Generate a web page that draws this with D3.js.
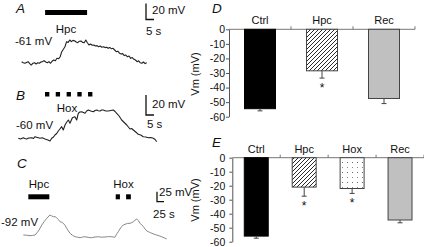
<!DOCTYPE html>
<html><head><meta charset="utf-8">
<script src="https://cdn.jsdelivr.net/npm/d3@7"></script>
<style>
html,body{margin:0;padding:0;background:#fff;}
svg{display:block;font-family:"Liberation Sans",Arial,sans-serif;}
</style></head><body>
<svg id="c" width="424" height="247"></svg>
<script>
// ---------- Trace A (Hpc) ----------
const dtA = 1; // s per sample
const vA = [-60.6,-62,-62.6,-61.5,-60.6,-63,-64.8,-62.5,-61.9,-63.5,-62,-62.6,-61,-60.5,-59.4,-61,-61.9,-60.5,-62.6,-60,-58.5,-59.5,-56.4,-57,-54.4,-48.1,-45,-41.9,-35.6,-36.5,-33.5,-35.6,-34,-34.4,-36,-36.9,-35,-34.8,-36.5,-36.9,-33.5,-37,-39.8,-38.5,-40,-39.8,-41,-40.5,-41.9,-41,-42.5,-41.9,-43,-42.5,-43.9,-42.8,-44.5,-43.9,-46,-48.1,-47.5,-50,-51,-50.5,-53,-52.3,-54.5,-53.5,-56.4,-55.5,-57.6,-58.5,-60.6,-59.5,-62,-62.6,-61,-63,-61.9];
const hpcA = [14.6, 40.8];
// ---------- Trace B (Hox) ----------
const tB = [0,1.5,3.1,4,5.2,6.5,8.4,9.5,10.4,12,13.6,15,16.7,18.5,19.8,20.9,22,22.9,24,25,26,27.1,28.1,29.2,30.3,31.3,32.3,33.8,35.4,36.5,37.5,38.5,39.6,40.7,41.7,42.7,43.8,45.3,46.9,48,49,50,51.1,52.1,53.1,54.7,56.3,57.8,59.4,60.5,61.5,63,64.6,66.2,67.8,68.8,69.8,70.8,71.9,73.4,75,76.5,78.1,79.7,81.3,82.8,84.4,85.5,86.5];
const vB = [-60.3,-61,-59.7,-60.5,-61,-60,-59.7,-60.5,-58.7,-59.5,-60.3,-59.8,-61,-62,-63,-60.3,-59,-57,-55.5,-53,-51,-48.7,-52,-47,-44,-42,-45.3,-39.7,-38.7,-42,-35.3,-34,-33.7,-34.5,-35.3,-33,-32,-33,-33.7,-32.5,-32,-32.8,-33,-32,-32,-33,-33,-32.5,-32,-33.5,-35.3,-38,-42,-44.5,-47,-49,-51,-50.5,-52,-54,-56.3,-57,-58.7,-59,-59.7,-59.5,-60.3,-61.5,-63.7];
const hoxB = [[16.7,19.4],[23.4,26.1],[30.2,32.9],[36.9,39.6],[43.6,46.3]];
// ---------- Trace C ----------
const tC = [0,12,24,33,42,54,66,75,84,95,101,107,113,119,125,131,137,143,149,155,161,167,176,185,194,203,212,220,232,244,256,268,280,292,304,316,322,327,333,339,345,351,357,363,372,381,387,393,399,405,411,417,423,429,435,441,450,459,467,476,485,494,503,512];
const vC = [-92,-92.5,-93.8,-93,-92,-82,-67,-58,-50.3,-42,-44,-46.3,-46,-48.8,-53,-58.8,-60,-62.8,-68,-75.3,-82,-87.8,-93,-96.3,-97.5,-98.8,-97,-96.3,-98,-98.8,-97,-96.3,-97.5,-97,-96,-96.3,-97,-97.8,-90,-83.8,-77,-71.3,-67,-65.3,-63,-62.8,-61,-58.8,-55,-52,-56,-62.8,-67,-71.3,-77,-82,-85,-87.8,-90,-92,-94,-96.3,-99,-102];
const hpcC = [17.9, 92.9];
const hoxC = [[330,345],[367,384]];
// ---------- Bar chart D ----------
const catsD = ["Ctrl","Hpc","Rec"];
const valsD = [-54.5,-28.5,-47.5];
const errD = [1.5,5,3.5];
const sigD = [false,true,false];
// ---------- Bar chart E ----------
const catsE = ["Ctrl","Hpc","Hox","Rec"];
const valsE = [-56,-21,-22,-44.5];
const errE = [1.5,6.5,3.5,2];
const sigE = [false,true,true,false];
const yTicks = [0,-10,-20,-30,-40,-50,-60];

const svg = d3.select("#c");
const defs = svg.append("defs");
const hatch = defs.append("pattern").attr("id","hatch").attr("patternUnits","userSpaceOnUse")
  .attr("width",4).attr("height",4);
hatch.append("rect").attr("width",4).attr("height",4).attr("fill","#fff");
hatch.append("path").attr("d","M-1,1 l2,-2 M0,4 l4,-4 M3,5 l2,-2").attr("stroke","#111").attr("stroke-width",0.9);
const dots = defs.append("pattern").attr("id","dots").attr("patternUnits","userSpaceOnUse")
  .attr("width",5).attr("height",10);
dots.append("rect").attr("width",5).attr("height",10).attr("fill","#fff");
dots.append("rect").attr("x",2).attr("y",2).attr("width",1).attr("height",1).attr("fill","#666");
dots.append("rect").attr("x",2).attr("y",7).attr("width",1).attr("height",1).attr("fill","#888");

const fs = 11.5;
function txt(x,y,s,opt={}){
  return svg.append("text").attr("x",x).attr("y",y).text(s)
    .attr("font-size",opt.size||fs).attr("text-anchor",opt.anchor||"start")
    .attr("font-style",opt.italic?"italic":null).attr("fill","#111");
}
function lineTrace(xs,ys,ts,vs,color,w){
  svg.append("path").datum(ts.map((t,i)=>[t,vs[i]]))
    .attr("d",d3.line().x(d=>xs(d[0])).y(d=>ys(d[1])))
    .attr("fill","none").attr("stroke",color).attr("stroke-width",w).attr("stroke-linejoin","round");
}
function scaleBar(x0,y0,xs,ys,dt,dv,v0){
  const h = ys(v0)-ys(v0+dv), w = xs(dt)-xs(0);
  svg.append("path").attr("d",`M${x0},${y0-h}V${y0}H${x0+w}`).attr("fill","none")
    .attr("stroke","#111").attr("stroke-width",1.3);
}

// Panel A
const xA = d3.scaleLinear().domain([0,78]).range([21.7,146.7]);
const yA = d3.scaleLinear().domain([-61,-41]).range([62,46]);
txt(16,13,"A",{size:13.5,italic:true});
svg.append("rect").attr("x",xA(hpcA[0])).attr("y",10).attr("width",xA(hpcA[1])-xA(hpcA[0])).attr("height",5).attr("fill","#000");
txt(66,33,"Hpc",{anchor:"middle"});
scaleBar(146,19.5,xA,yA,5,20,-61);
txt(152,14,"20 mV");
txt(146,35,"5 s");
txt(15,45,"-61 mV");
lineTrace(xA,yA,vA.map((v,i)=>i*dtA),vA,"#222",1.1);

// Panel B
const xB = d3.scaleLinear().domain([0,86.5]).range([18.3,156.7]);
const yB = d3.scaleLinear().domain([-60,-40]).range([138,118]);
txt(16,100,"B",{size:13.5,italic:true});
svg.selectAll(".hoxB").data(hoxB).enter().append("rect")
  .attr("x",d=>xB(d[0])).attr("y",92).attr("width",d=>xB(d[1])-xB(d[0])).attr("height",4.5).attr("fill","#000");
txt(67,112,"Hox",{anchor:"middle"});
scaleBar(146,115,xB,yB,5,20,-60);
txt(152,108,"20 mV");
txt(147,128,"5 s");
txt(16,129,"-60 mV");
lineTrace(xB,yB,tB,vB,"#222",1.1);

// Panel C
const xC = d3.scaleLinear().domain([0,512]).range([23.3,166.7]);
const yC = d3.scaleLinear().domain([-92,-42]).range([235,215]);
txt(17,168,"C",{size:13.5,italic:true});
txt(39,188,"Hpc",{anchor:"middle"});
txt(123.5,188,"Hox",{anchor:"middle"});
svg.append("rect").attr("x",xC(hpcC[0])).attr("y",194.3).attr("width",xC(hpcC[1])-xC(hpcC[0])).attr("height",5).attr("fill","#000");
svg.selectAll(".hoxC").data(hoxC).enter().append("rect")
  .attr("x",d=>xC(d[0])).attr("y",194.3).attr("width",d=>xC(d[1])-xC(d[0])).attr("height",5).attr("fill","#000");
scaleBar(157,201.7,xC,yC,25,25,-92);
txt(159,196,"25 mV");
txt(153,218,"25 s");
txt(1,225.7,"-92 mV");
lineTrace(xC,yC,tC,vC,"#888",1);

// Bar charts
const fills = {Ctrl:"#000",Hpc:"url(#hatch)",Hox:"url(#dots)",Rec:"#c0c0c0"};
function barChart(opt){
  const {cats,vals,errs,sig,x0,x1,yTop,yBot,label,labelX,labelY,vmY,lineEnd,tickOff} = opt;
  const x = d3.scaleBand().domain(cats).range([x0,x1]);
  const y = d3.scaleLinear().domain([-60,0]).range([yBot,yTop]);
  const g = svg.append("g");
  g.append("line").attr("x1",x0).attr("x2",lineEnd).attr("y1",y(0)).attr("y2",y(0)).attr("stroke","#777").attr("stroke-width",1);
  cats.forEach((c,i)=>{ if(i>0) g.append("line").attr("x1",x(c)).attr("x2",x(c)).attr("y1",y(0)-3).attr("y2",y(0)).attr("stroke","#777"); });
  g.append("line").attr("x1",x1).attr("x2",x1).attr("y1",y(0)-3).attr("y2",y(0)).attr("stroke","#777");
  const bw = x.bandwidth()*0.5;
  cats.forEach((c,i)=>{
    const cx = x(c)+x.bandwidth()/2;
    g.append("rect").attr("x",cx-bw/2).attr("y",y(0)).attr("width",bw).attr("height",y(vals[i])-y(0))
      .attr("fill",fills[c]).attr("stroke",c==="Ctrl"?"#000":"#444").attr("stroke-width",1);
    const ye = y(vals[i]-errs[i]);
    g.append("line").attr("x1",cx).attr("x2",cx).attr("y1",y(vals[i])).attr("y2",ye).attr("stroke","#444");
    g.append("line").attr("x1",cx-2.5).attr("x2",cx+2.5).attr("y1",ye).attr("y2",ye).attr("stroke","#444");
    if(sig[i]) g.append("text").attr("x",cx).attr("y",ye+14).attr("text-anchor","middle").attr("font-size",12).attr("fill","#111").text("*");
    g.append("text").attr("x",cx).attr("y",y(0)-5).attr("text-anchor","middle").attr("font-size",11).attr("fill","#111").text(c);
  });
  const ax = g.append("g").attr("transform",`translate(${x0},0)`)
    .call(d3.axisLeft(y).tickValues(yTicks).tickSize(3).tickSizeOuter(0).tickPadding(tickOff).tickFormat(d=>String(d)));
  ax.select(".domain").attr("stroke","#555");
  ax.selectAll(".tick line").attr("stroke","#555");
  ax.selectAll(".tick text").attr("font-size",10.5).attr("font-family","Liberation Sans, Arial, sans-serif").attr("fill","#111");
  svg.append("text").attr("transform",`translate(${labelX+4},${vmY}) rotate(-90)`).attr("text-anchor","middle")
    .attr("font-size",11).attr("fill","#111").text("Vm (mV)");
  txt(labelX+17,labelY,label,{size:13.5,italic:true});
}
barChart({cats:catsD,vals:valsD,errs:errD,sig:sigD,x0:229,x1:415,yTop:29.3,yBot:116.7,label:"D",labelX:195,labelY:13,vmY:74,lineEnd:415,tickOff:1});
barChart({cats:catsE,vals:valsE,errs:errE,sig:sigE,x0:232.3,x1:424,yTop:157.7,yBot:241.7,label:"E",labelX:195,labelY:146.5,vmY:200,lineEnd:424,tickOff:4});
</script>
</body></html>
